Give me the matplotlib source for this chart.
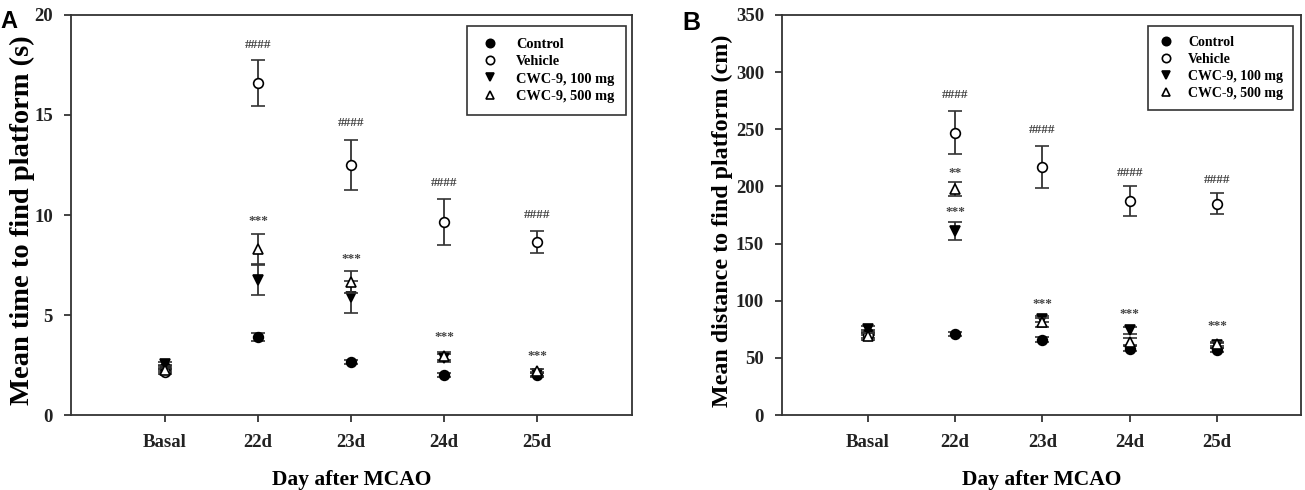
import matplotlib
matplotlib.use("Agg")
import matplotlib.pyplot as plt
import numpy as np

days = ["Basal", "22d", "23d", "24d", "25d"]
series = ["Control", "Vehicle", "CWC-9, 100 mg", "CWC-9, 500 mg"]

# Panel A: mean time (s)
time_control = [2.4, 3.9, 2.65, 2.0, 2.0]
time_control_err = [0.1, 0.2, 0.1, 0.1, 0.1]
time_vehicle = [2.15, 16.6, 12.5, 9.65, 8.65]
time_vehicle_err = [0.1, 1.15, 1.25, 1.15, 0.55]
time_cwc100 = [2.55, 6.75, 5.9, 2.85, 2.05]
time_cwc100_err = [0.1, 0.75, 0.8, 0.2, 0.1]
time_cwc500 = [2.25, 8.3, 6.65, 2.95, 2.2]
time_cwc500_err = [0.1, 0.75, 0.55, 0.2, 0.1]

# Panel B: mean distance (cm)
dist_control = [72, 71, 66, 58, 57]
dist_control_err = [2, 2, 2, 2, 2]
dist_vehicle = [70, 247, 217, 187, 185]
dist_vehicle_err = [3, 19, 18, 13, 9]
dist_cwc100 = [75, 161, 84, 74, 61]
dist_cwc100_err = [3, 8, 3, 3, 2]
dist_cwc500 = [69, 198, 81, 64, 62]
dist_cwc500_err = [3, 6, 4, 3, 2]

# Significance annotations: (day index, y value, text)
time_marks_x = [1, 2, 3, 4, 1, 2, 3, 4]
time_marks_y = [18.5, 14.6, 11.6, 10.0, 9.7, 7.8, 3.9, 2.95]
time_marks_txt = ["####", "####", "####", "####", "***", "***", "***", "***"]

dist_marks_x = [1, 2, 3, 4, 1, 1, 2, 3, 4]
dist_marks_y = [280, 249, 212, 206, 212, 178, 97, 88, 78]
dist_marks_txt = ["####", "####", "####", "####", "**", "***", "***", "***", "***"]

serif = ["Liberation Serif", "DejaVu Serif"]
plt.rcParams["font.family"] = serif
plt.rcParams["font.weight"] = "bold"

fig = plt.figure(figsize=(13.05, 4.9), dpi=100)
axA = fig.add_axes([71 / 1305, 75 / 490, 561 / 1305, 400 / 490])
axB = fig.add_axes([782 / 1305, 75 / 490, 519 / 1305, 400 / 490])

styles = [
    dict(marker="o", mfc="black", mec="black"),
    dict(marker="o", mfc="white", mec="black"),
    dict(marker="v", mfc="black", mec="black"),
    dict(marker="^", mfc="white", mec="black"),
]

def draw(ax, means, errs, ylim, yticks, ylabel, mx, my, mt, xlim, ylabsize,
         ylab_xy, leg_anchor, leg_fs, leg_hl, leg_bp):
    x = np.arange(len(days))
    handles = []
    for i in range(4):
        eb = ax.errorbar(x, means[i], yerr=errs[i], linestyle="none",
                         color="#222222", ecolor="#333333", elinewidth=1.3,
                         capsize=5, capthick=1.3, markersize=7,
                         markeredgewidth=1.2, label=series[i], zorder=3 + i,
                         **styles[i])
        handles.append(eb)
    for xx, yy, tt in zip(mx, my, mt):
        ax.text(xx, yy, tt, ha="center", va="center", fontsize=9.5,
                color="#444444", fontweight="bold")
    ax.set_xlim(*xlim)
    ax.set_ylim(*ylim)
    ax.set_yticks(yticks)
    ax.set_yticklabels([str(t) for t in yticks], fontsize=13.5, fontweight="bold")
    ax.set_xticks(x)
    ax.set_xticklabels(days, fontsize=13.5, fontweight="bold")
    ax.tick_params(axis="both", direction="out", length=5, width=1.2,
                   colors="#222222", pad=8)
    ax.tick_params(axis="x", pad=9)
    for s in ax.spines.values():
        s.set_linewidth(1.3)
        s.set_color("#333333")
    ax.set_ylabel(ylabel, fontsize=ylabsize, fontweight="bold",
                  va="center", ha="center")
    ax.yaxis.set_label_coords(*ylab_xy)
    ax.set_xlabel("Day after MCAO", fontsize=15.5, fontweight="bold", labelpad=13)
    leg = ax.legend(handles=[h[0] for h in handles], labels=series,
                    loc="upper right", bbox_to_anchor=leg_anchor,
                    borderaxespad=0.0,
                    frameon=True, fancybox=False, edgecolor="black",
                    fontsize=leg_fs, handletextpad=1.0, borderpad=leg_bp,
                    labelspacing=0.3, handlelength=leg_hl)
    leg.get_frame().set_linewidth(1.2)
    for t in leg.get_texts():
        t.set_fontweight("bold")
    for h in leg.legend_handles:
        h.set_markersize(6)

draw(axA,
     [time_control, time_vehicle, time_cwc100, time_cwc500],
     [time_control_err, time_vehicle_err, time_cwc100_err, time_cwc500_err],
     (0, 20), [0, 5, 10, 15, 20], "Mean time to find platform (s)",
     time_marks_x, time_marks_y, time_marks_txt, (-1.01, 5.02), 20.5,
     (-0.087, 0.4875), (0.989, 0.9725), 10.4, 1.6, 0.8)

draw(axB,
     [dist_control, dist_vehicle, dist_cwc100, dist_cwc500],
     [dist_control_err, dist_vehicle_err, dist_cwc100_err, dist_cwc500_err],
     (0, 350), [0, 50, 100, 150, 200, 250, 300, 350],
     "Mean distance to find platform (cm)",
     dist_marks_x, dist_marks_y, dist_marks_txt, (-0.98, 4.96), 17.3,
     (-0.1156, 0.485), (0.9846, 0.9725), 10.0, 1.2, 0.7)

fig.text(0.0, 0.942, "A", fontsize=17, fontweight="bold",
         family=["Liberation Sans", "DejaVu Sans"])
fig.text(0.523, 0.938, "B", fontsize=18, fontweight="bold",
         family=["Liberation Sans", "DejaVu Sans"])

fig.savefig("out.png", dpi=100, facecolor="white")
